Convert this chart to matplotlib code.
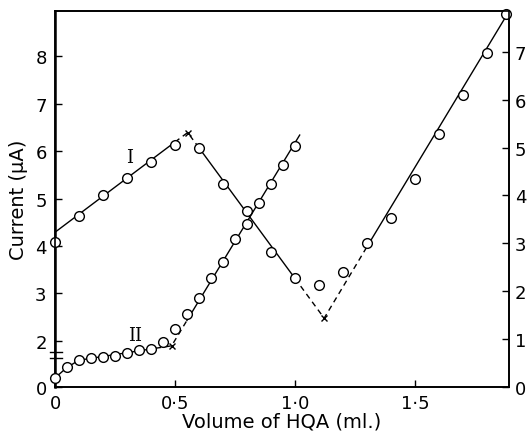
import matplotlib
matplotlib.use("Agg")
import matplotlib.pyplot as plt
import matplotlib.transforms as mtransforms

# curve I (left axis, uA)
vol_1 = [0.0, 0.1, 0.2, 0.3, 0.4, 0.5, 0.6, 0.7, 0.8, 0.9, 1.0, 1.1,
         1.2, 1.3, 1.4, 1.5, 1.6, 1.7, 1.8, 1.88]
cur_1 = [4.09, 4.63, 5.08, 5.43, 5.77, 6.13, 6.06, 5.31, 4.73, 3.87, 3.32, 3.18,
         3.46, 4.06, 4.58, 5.41, 6.36, 7.18, 8.06, 8.88]
# fitted lines for curve I: (x, y) pairs, solid and dashed pieces
fit1_solid = [([0.0, 0.5], [4.29, 6.19]),
              ([0.6, 1.0], [6.07, 3.32]),
              ([1.3, 1.89], [3.98, 8.92])]
fit1_dash = [([0.5, 0.553, 0.6], [6.19, 6.39, 6.07]),
             ([1.0, 1.122, 1.3], [3.32, 2.48, 3.98])]
cross1 = ([0.553, 1.122], [6.39, 2.48])

# curve II (right axis)
vol_2 = [0.0, 0.05, 0.1, 0.15, 0.2, 0.25, 0.3, 0.35, 0.4, 0.45, 0.5, 0.55,
         0.6, 0.65, 0.7, 0.75, 0.8, 0.85, 0.9, 0.95, 1.0]
cur_2 = [0.19, 0.41, 0.56, 0.61, 0.62, 0.65, 0.71, 0.78, 0.79, 0.95, 1.21, 1.52,
         1.86, 2.27, 2.62, 3.09, 3.40, 3.84, 4.24, 4.63, 5.04]
fit2_solid = [([0.0, 0.05, 0.1, 0.42], [0.19, 0.41, 0.56, 0.81]),
              ([0.55, 1.02], [1.39, 5.26])]
fit2_dash = [([0.42, 0.486, 0.55], [0.81, 0.86, 1.39])]
cross2 = ([0.486], [0.86])

xticks = [0, 0.5, 1.0, 1.5]
xlabels = ["0", "0·5", "1·0", "1·5"]
left_ticks = [1.03, 2, 3, 4, 5, 6, 7, 8]
left_labels = ["0", "2", "3", "4", "5", "6", "7", "8"]
right_ticks = [0, 1, 2, 3, 4, 5, 6, 7]

fig = plt.figure(figsize=(5.28, 4.35), dpi=100)
ax = fig.add_axes([0.1042, 0.108, 0.860, 0.8644])
ax2 = ax.twinx()

lw = 1.0
dash = (0, (4, 3))
mk = dict(marker="o", ms=7, mfc="white", mec="black", mew=1.0, ls="none", zorder=5)

for xs, ys in fit1_solid:
    ax.plot(xs, ys, color="black", lw=lw)
for xs, ys in fit1_dash:
    ax.plot(xs, ys, color="black", lw=lw, ls=dash)
ax.plot(cross1[0], cross1[1], marker="x", ms=4, mew=1, color="black", ls="none")
ax.plot(vol_1, cur_1, clip_on=False, **mk)

for xs, ys in fit2_solid:
    ax2.plot(xs, ys, color="black", lw=lw)
for xs, ys in fit2_dash:
    ax2.plot(xs, ys, color="black", lw=lw, ls=dash)
ax2.plot(cross2[0], cross2[1], marker="x", ms=4, mew=1, color="black", ls="none")
ax2.plot(vol_2, cur_2, clip_on=False, **mk)

ax.set_xlim(0, 1.893)
ax.set_ylim(1.03, 8.95)
ax2.set_ylim(0, 7.85)

ax.set_xticks(xticks)
ax.set_xticklabels(xlabels)
ax.set_yticks(left_ticks)
ax.set_yticklabels(left_labels)
ax2.set_yticks(right_ticks)

ax.tick_params(axis="both", direction="in", length=5, width=1, labelsize=13)
ax.tick_params(axis="y", pad=6)
ax.tick_params(axis="x", pad=5)
ax2.tick_params(axis="y", direction="in", length=5, width=1, labelsize=13, pad=4)

for a in (ax, ax2):
    for sp in a.spines.values():
        sp.set_linewidth(1.2)
ax.spines["left"].set_linewidth(1.8)

# axis break marks on the left axis
trans = mtransforms.blended_transform_factory(ax.transAxes, ax.transData)
for yb in (1.65, 1.76):
    ax.plot([-0.012, 0.016], [yb, yb], color="black", lw=1, transform=trans, clip_on=False)

ax.text(0.31, 5.87, "I", fontsize=13, family="DejaVu Serif", ha="center", va="center")
ax2.text(0.335, 1.08, "II", fontsize=13, family="DejaVu Serif", ha="center", va="center")

ax.set_xlabel("Volume of HQA (ml.)", fontsize=14, labelpad=0)
ax.set_ylabel("Current (μA)", fontsize=14, labelpad=5)

fig.savefig("out.png", dpi=100)
